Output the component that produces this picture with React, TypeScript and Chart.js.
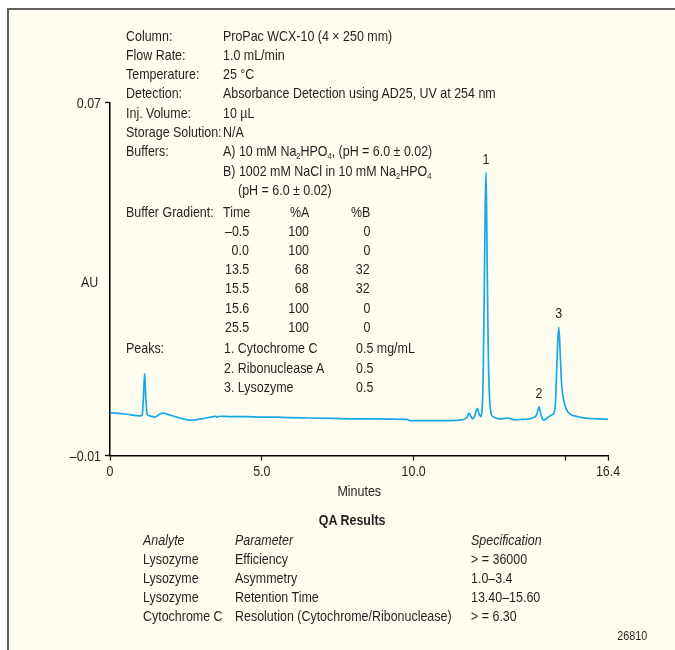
import React, { useEffect, useRef } from 'react';
import { Chart, registerables } from 'chart.js';

Chart.register(...registerables);

const FONT = "'Liberation Sans', Arial, Helvetica, sans-serif";
const SQUEEZE = 0.83;
const INK = '#231f20';
const TRACE = '#1aa8e4';

// Chromatogram trace (minutes, AU)
const traceMinutes = [
  0.0, 0.5, 0.99, 1.06, 1.1, 1.14, 1.18, 1.22, 1.3, 1.48, 1.62, 1.76, 1.95, 2.3, 2.69, 3.0, 3.4, 3.5, 3.52, 3.6,
  4.0, 4.5, 5.0, 5.5, 5.86, 6.5, 7.35, 8.5, 9.77, 9.88, 10.5, 11.0, 11.52, 11.69, 11.77, 11.83, 11.89, 11.94,
  12.0, 12.06, 12.1, 12.14, 12.2, 12.25, 12.29, 12.33, 12.36, 12.38, 12.4, 12.43, 12.46, 12.5, 12.55, 12.62,
  12.7, 12.84, 13.0, 13.12, 13.2, 13.33, 13.6, 13.83, 13.95, 14.05, 14.1, 14.13, 14.17, 14.22, 14.28, 14.35,
  14.45, 14.55, 14.62, 14.67, 14.7, 14.74, 14.78, 14.82, 14.87, 14.95, 15.08, 15.2, 15.35, 15.55, 15.75, 16.1, 16.4,
];
const traceAU = [
  -0.0003, -0.0006, -0.001, -0.0008, 0.003, 0.0086, 0.003, -0.0006, -0.001, -0.0013, -0.0007, -0.0004, -0.0008,
  -0.0015, -0.002, -0.0017, -0.0012, -0.0011, -0.0013, -0.0011,
  -0.0012, -0.0012, -0.0013, -0.0013, -0.0014, -0.0015, -0.0016, -0.0017, -0.0018, -0.0021, -0.0021, -0.0021,
  -0.002, -0.0017, -0.0012, -0.0004, -0.0012, -0.0017,
  -0.0012, 0.0002, 0.0007, -0.0003, -0.0012, 0.0, 0.008, 0.03, 0.048, 0.0541, 0.047, 0.028, 0.012, 0.003, -0.0005,
  -0.0012,
  -0.0015, -0.0017, -0.0016, -0.0015, -0.0017, -0.0019, -0.0018, -0.0017, -0.0014, -0.0008, 0.0004, 0.001, 0.0,
  -0.0014, -0.002, -0.0018,
  -0.0012, -0.0008, -0.0004, 0.002, 0.0075, 0.015, 0.0191, 0.014, 0.0065, 0.0022, -0.0001, -0.0008, -0.0011,
  -0.0014, -0.0016, -0.0017, -0.0018,
];

const xTickValues = [0, 5, 10, 15, 16.4];
const xTickLabels = ['0', '5.0', '10.0', '', '16.4'];
const yTickValues = [-0.01, 0.07];
const yTickLabels = ['–0.01', '0.07'];

const peakNumbers = ['1', '2', '3'];
const peakMinutes = [12.38, 14.13, 14.78];
const peakAU = [0.0541, 0.001, 0.0191];

const infoLabels = ['Column:', 'Flow Rate:', 'Temperature:', 'Detection:', 'Inj. Volume:', 'Storage Solution:', 'Buffers:'];
const infoValues = [
  'ProPac WCX-10 (4 × 250 mm)',
  '1.0 mL/min',
  '25 °C',
  'Absorbance Detection using AD25, UV at 254 nm',
  '10 µL',
  'N/A',
];

const gradientHeaders = ['Time', '%A', '%B'];
const gradientTime = ['–0.5', '0.0', '13.5', '15.5', '15.6', '25.5'];
const gradientA = ['100', '100', '68', '68', '100', '100'];
const gradientB = ['0', '0', '32', '32', '0', '0'];

const peakNames = ['1. Cytochrome C', '2. Ribonuclease A', '3. Lysozyme'];
const peakConc = ['0.5 mg/mL', '0.5', '0.5'];

const qaHeaders = ['Analyte', 'Parameter', 'Specification'];
const qaAnalyte = ['Lysozyme', 'Lysozyme', 'Lysozyme', 'Cytochrome C'];
const qaParameter = ['Efficiency', 'Asymmetry', 'Retention Time', 'Resolution (Cytochrome/Ribonuclease)'];
const qaSpec = ['> = 36000', '1.0–3.4', '13.40–15.60', '> = 6.30'];

type TProps = {
  x: number;
  y: number;
  align?: 'left' | 'right' | 'center';
  size?: number;
  bold?: boolean;
  italic?: boolean;
  children: React.ReactNode;
};

function T({ x, y, align = 'left', size = 15, bold, italic, children }: TProps) {
  const lh = 20;
  const style: React.CSSProperties = {
    position: 'absolute',
    top: y - lh / 2,
    height: lh,
    lineHeight: `${lh}px`,
    fontSize: size,
    fontWeight: bold ? 'bold' : 'normal',
    fontStyle: italic ? 'italic' : 'normal',
    color: INK,
    whiteSpace: 'nowrap',
    fontFamily: FONT,
  };
  let origin = 'left center';
  if (align === 'left') {
    style.left = x;
  } else if (align === 'right') {
    style.left = x - 300;
    style.width = 300;
    style.textAlign = 'right';
    origin = 'right center';
  } else {
    style.left = x - 300;
    style.width = 600;
    style.textAlign = 'center';
    origin = 'center center';
  }
  return (
    <div style={style}>
      <span style={{ display: 'inline-block', transform: `scaleX(${SQUEEZE})`, transformOrigin: origin }}>{children}</span>
    </div>
  );
}

const Sub = ({ children }: { children: React.ReactNode }) => (
  <span style={{ fontSize: 9, position: 'relative', top: 3 }}>{children}</span>
);

function squeezedText(ctx: CanvasRenderingContext2D, text: string, x: number, y: number) {
  ctx.save();
  ctx.translate(x, y);
  ctx.scale(SQUEEZE, 1);
  ctx.fillText(text, 0, 0);
  ctx.restore();
}

const labelPlugin = {
  id: 'condensedLabels',
  afterDraw(chart: any) {
    const { ctx, scales } = chart;
    const xs = scales.x;
    const ys = scales.y;
    ctx.save();
    ctx.font = `15px ${FONT}`;
    ctx.fillStyle = INK;
    // peak numbers
    ctx.textAlign = 'center';
    ctx.textBaseline = 'alphabetic';
    peakNumbers.forEach((n, i) => {
      squeezedText(ctx, n, xs.getPixelForValue(peakMinutes[i]), ys.getPixelForValue(peakAU[i]) - 9);
    });
    // x tick labels
    ctx.textBaseline = 'middle';
    xTickValues.forEach((v, i) => {
      squeezedText(ctx, xTickLabels[i], xs.getPixelForValue(v), xs.top + 16);
    });
    // y tick labels
    ctx.textAlign = 'right';
    yTickValues.forEach((v, i) => {
      squeezedText(ctx, yTickLabels[i], ys.right - 9, ys.getPixelForValue(v) + 1);
    });
    ctx.restore();
  },
};

export default function App() {
  const canvasRef = useRef<HTMLCanvasElement | null>(null);

  useEffect(() => {
    if (!canvasRef.current) return;
    const chart = new Chart(canvasRef.current, {
      type: 'line',
      data: {
        datasets: [
          {
            data: traceMinutes.map((t, i) => ({ x: t, y: traceAU[i] })),
            borderColor: TRACE,
            borderWidth: 1.7,
            pointRadius: 0,
            fill: false,
            cubicInterpolationMode: 'monotone',
          },
        ],
      },
      options: {
        animation: false,
        responsive: false,
        devicePixelRatio: 1,
        layout: { padding: { left: 0, right: 67, top: 102.5, bottom: 154.5 } },
        plugins: { legend: { display: false }, tooltip: { enabled: false } },
        scales: {
          x: {
            type: 'linear',
            min: 0,
            max: 16.4,
            afterBuildTicks: (s: any) => {
              s.ticks = xTickValues.map((v) => ({ value: v }));
            },
            afterFit: (s: any) => {
              s.height = 40;
            },
            ticks: { display: false },
            grid: { drawOnChartArea: false, drawTicks: true, tickLength: 5, tickColor: '#000', tickWidth: 1.3 },
            border: { color: '#000', width: 1.5 },
          },
          y: {
            type: 'linear',
            min: -0.01,
            max: 0.07,
            afterBuildTicks: (s: any) => {
              s.ticks = yTickValues.map((v) => ({ value: v }));
            },
            afterFit: (s: any) => {
              s.width = 110;
            },
            ticks: { display: false },
            grid: { drawOnChartArea: false, drawTicks: true, tickLength: 5, tickColor: '#000', tickWidth: 1.3 },
            border: { color: '#000', width: 1.5 },
          },
        },
      },
      plugins: [labelPlugin],
    } as any);
    return () => chart.destroy();
  }, []);

  const infoY = [35.5, 54.8, 74.1, 93.4, 112.7, 132, 151.3];
  const gradY = [230.7, 250, 269.2, 288.4, 307.6, 326.8];
  const peaksY = [348.3, 367.8, 387.3];
  const qaY = [559, 578, 597, 616];

  return (
    <div style={{ position: 'absolute', left: 0, top: 0, width: 675, height: 650, background: '#fff', overflow: 'hidden', fontFamily: FONT }}>
      <div
        style={{
          position: 'absolute',
          left: 7,
          top: 8,
          width: 700,
          height: 700,
          background: '#fefdf0',
          borderTop: '2px solid #606060',
          borderLeft: '2px solid #606060',
        }}
      />
      <canvas ref={canvasRef} width={675} height={650} style={{ position: 'absolute', left: 0, top: 0 }} />

      {infoLabels.map((l, i) => (
        <T key={'il' + i} x={126} y={infoY[i]}>{l}</T>
      ))}
      {infoValues.map((v, i) => (
        <T key={'iv' + i} x={223} y={infoY[i]}>{v}</T>
      ))}
      <T x={223} y={151.3}>
        A) 10 mM Na<Sub>2</Sub>HPO<Sub>4</Sub>, (pH = 6.0 ± 0.02)
      </T>
      <T x={223} y={170.6}>
        B) 1002 mM NaCl in 10 mM Na<Sub>2</Sub>HPO<Sub>4</Sub>
      </T>
      <T x={238} y={189.9}>(pH = 6.0 ± 0.02)</T>

      <T x={126} y={211.7}>Buffer Gradient:</T>
      <T x={223} y={211.7}>{gradientHeaders[0]}</T>
      <T x={309} y={211.7} align="right">{gradientHeaders[1]}</T>
      <T x={370} y={211.7} align="right">{gradientHeaders[2]}</T>
      {gradientTime.map((t, i) => (
        <React.Fragment key={'g' + i}>
          <T x={249} y={gradY[i]} align="right">{t}</T>
          <T x={309} y={gradY[i]} align="right">{gradientA[i]}</T>
          <T x={370} y={gradY[i]} align="right">{gradientB[i]}</T>
        </React.Fragment>
      ))}

      <T x={126} y={peaksY[0]}>Peaks:</T>
      {peakNames.map((n, i) => (
        <React.Fragment key={'p' + i}>
          <T x={224} y={peaksY[i]}>{n}</T>
          <T x={356} y={peaksY[i]}>{peakConc[i]}</T>
        </React.Fragment>
      ))}

      <T x={81} y={282}>AU</T>
      <T x={359} y={491} align="center">Minutes</T>

      <T x={352} y={520} align="center" bold>QA Results</T>
      <T x={143} y={540} italic>{qaHeaders[0]}</T>
      <T x={235} y={540} italic>{qaHeaders[1]}</T>
      <T x={471} y={540} italic>{qaHeaders[2]}</T>
      {qaAnalyte.map((a, i) => (
        <React.Fragment key={'q' + i}>
          <T x={143} y={qaY[i]}>{a}</T>
          <T x={235} y={qaY[i]}>{qaParameter[i]}</T>
          <T x={471} y={qaY[i]}>{qaSpec[i]}</T>
        </React.Fragment>
      ))}
      <T x={647} y={636} align="right" size={13}>26810</T>
    </div>
  );
}
